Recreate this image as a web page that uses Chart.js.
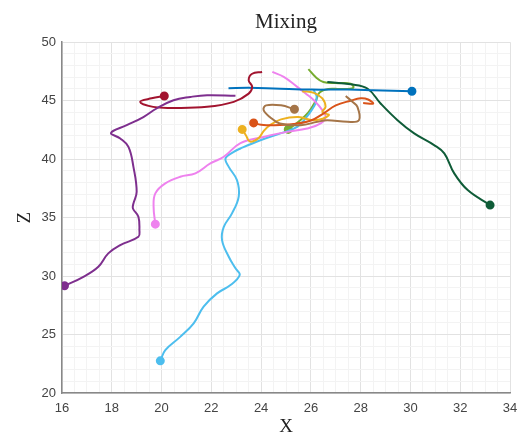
<!DOCTYPE html>
<html>
<head>
<meta charset="utf-8">
<script src="https://cdn.jsdelivr.net/npm/chart.js@4.4.0/dist/chart.umd.min.js"></script>
<style>
  html, body { margin: 0; padding: 0; background: #fff; }
  #wrap { width: 522px; height: 439px; }
</style>
</head>
<body>
<div id="wrap"><canvas id="mixChart" width="522" height="439"></canvas></div>
<script>
// each track starts at its marker
const purpleX = [16.1, 16.86, 17.46, 17.86, 18.34, 19.07, 19.11, 19.07, 18.85, 18.87, 19.0, 18.87, 18.67, 18.34, 17.97, 18.6, 19.27, 19.8, 20.48, 21.16, 21.83, 22.97];
const purpleY = [29.17, 29.94, 30.8, 31.94, 32.65, 33.36, 33.93, 35.07, 35.78, 36.2, 37.2, 39.34, 41.05, 41.77, 42.25, 42.9, 43.6, 44.33, 45.04, 45.32, 45.47, 45.41];

const redX = [20.11, 19.6, 19.14, 19.66, 20.47, 21.83, 22.9, 23.5, 23.64, 23.5, 23.64, 24.04];
const redY = [45.4, 45.2, 44.9, 44.47, 44.38, 44.47, 44.9, 45.6, 46.18, 46.75, 47.3, 47.46];

const blueX = [30.06, 28.5, 27.5, 26.0, 24.5, 23.5, 22.69];
const blueY = [45.81, 45.9, 45.95, 45.95, 46.05, 46.1, 46.07];

const darkGreenX = [33.2, 32.3, 31.76, 31.36, 30.95, 30.15, 29.48, 28.8, 28.27, 27.6, 26.66];
const darkGreenY = [36.07, 37.35, 38.78, 40.49, 41.2, 42.2, 43.33, 44.76, 46.04, 46.4, 46.6];

const greenX = [25.09, 25.5, 25.9, 26.2, 26.35, 26.7, 27.2, 27.7, 27.6, 27.0, 26.5, 26.2, 25.9];
const greenY = [42.54, 43.2, 44.0, 45.0, 45.7, 46.0, 46.0, 46.1, 46.45, 46.5, 46.6, 47.0, 47.7];

const orangeX = [23.7, 24.0, 24.5, 25.3, 26.0, 26.5, 27.0, 27.6, 28.0, 28.3, 28.5, 28.1];
const orangeY = [43.1, 42.95, 42.9, 43.0, 43.3, 43.9, 44.6, 45.0, 45.2, 45.1, 44.75, 44.8];

const brownX = [25.34, 24.8, 24.2, 24.1, 24.35, 24.75, 25.59, 26.26, 26.66, 27.47, 27.93, 27.87, 27.67, 27.4];
const brownY = [44.27, 44.6, 44.6, 44.2, 43.6, 43.05, 42.9, 43.19, 43.33, 43.19, 43.33, 44.47, 44.9, 45.4];

const yellowX = [23.24, 23.4, 23.55, 23.9, 24.1, 24.35, 24.8, 25.5, 26.12, 26.72, 26.46, 26.59, 26.46, 26.12, 25.65];
const yellowY = [42.54, 42.0, 41.5, 41.8, 42.4, 42.9, 43.4, 43.6, 43.33, 43.76, 44.04, 44.47, 45.19, 45.67, 45.81];

const cyanX = [19.95, 20.15, 20.75, 21.29, 21.69, 22.23, 22.77, 23.14, 22.97, 22.7, 22.43, 22.5, 22.83, 23.1, 23.03, 22.7, 22.57, 22.9, 23.17, 23.97, 24.78, 25.45, 25.79, 26.03, 26.19, 26.23, 26.11];
const cyanY = [22.75, 23.67, 24.8, 25.96, 27.39, 28.52, 29.23, 30.09, 30.66, 31.65, 33.08, 34.2, 35.36, 36.8, 38.2, 39.34, 40.06, 40.62, 40.91, 41.62, 42.2, 42.76, 43.5, 44.19, 44.79, 45.38, 45.9];

const violetX = [19.75, 19.68, 19.75, 20.15, 20.75, 21.36, 21.96, 22.5, 23.17, 24.1, 25.05, 25.85, 26.39, 26.59, 26.46, 26.12, 25.79, 25.45, 24.91, 24.45];
const violetY = [34.44, 35.92, 37.07, 37.92, 38.49, 38.78, 39.63, 40.2, 41.37, 41.9, 42.33, 42.62, 43.05, 43.62, 44.19, 45.04, 45.62, 46.18, 47.03, 47.46];

const xTicks = [16, 18, 20, 22, 24, 26, 28, 30, 32, 34];
const yTicks = [20, 25, 30, 35, 40, 45, 50];

const tracks = [
  { x: purpleX, y: purpleY, color: "#7E2F8E" },
  { x: redX, y: redY, color: "#A2142F" },
  { x: blueX, y: blueY, color: "#0072BD" },
  { x: darkGreenX, y: darkGreenY, color: "#0F5C38" },
  { x: brownX, y: brownY, color: "#A57548" },
  { x: orangeX, y: orangeY, color: "#D95319" },
  { x: yellowX, y: yellowY, color: "#EDB120" },
  { x: violetX, y: violetY, color: "#EE82EE" },
  { x: cyanX, y: cyanY, color: "#4DBEEE" },
  { x: greenX, y: greenY, color: "#77AC30" }
];

const datasets = tracks.map(t => ({
  data: t.x.map((v, i) => ({ x: v, y: t.y[i] })),
  showLine: true,
  borderColor: t.color,
  backgroundColor: t.color,
  borderWidth: 2,
  tension: 0.4,
  pointRadius: ctx => (ctx.dataIndex === 0 ? 3.5 : 0),
  pointHoverRadius: 0
}));

const tickFont = { family: "'Liberation Sans', Arial, sans-serif", size: 13 };
const serif = "'Liberation Serif', 'Times New Roman', serif";

new Chart(document.getElementById("mixChart"), {
  type: "scatter",
  data: { datasets },
  options: {
    responsive: false,
    animation: false,
    layout: { padding: { left: 10, right: 12 } },
    plugins: {
      legend: { display: false },
      tooltip: { enabled: false },
      title: {
        display: true,
        fullSize: false,
        text: "Mixing",
        color: "#222",
        font: { family: serif, size: 21, weight: "normal" },
        padding: { top: 10, bottom: 7 }
      }
    },
    scales: {
      x: {
        type: "linear",
        min: 16,
        max: 34,
        afterBuildTicks: s => {
          const t = [];
          for (let v = 16; v <= 34.001; v += 0.5) t.push({ value: v });
          s.ticks = t;
        },
        afterFit: s => {
          s.height = 46;
          s.paddingLeft = 0;
          s.paddingRight = 0;
        },
        ticks: {
          autoSkip: false,
          maxRotation: 0,
          color: "#444",
          font: tickFont,
          padding: 8,
          callback: v => (xTicks.includes(v) ? v : "")
        },
        grid: {
          drawTicks: false,
          color: c => (xTicks.includes(c.tick.value) ? "#e2e2e2" : "#f3f3f3")
        },
        border: { color: "#888", width: 1.5 },
        title: { display: true, text: "X", color: "#222", font: { family: serif, size: 19 }, padding: { top: 0, bottom: 1 } }
      },
      y: {
        type: "linear",
        min: 20,
        max: 50,
        afterBuildTicks: s => {
          const t = [];
          for (let v = 20; v <= 50; v += 1) t.push({ value: v });
          s.ticks = t;
        },
        afterFit: s => { s.width = 52; },
        ticks: {
          autoSkip: false,
          color: "#444",
          font: tickFont,
          padding: 6,
          callback: v => (yTicks.includes(v) ? v : "")
        },
        grid: {
          drawTicks: false,
          color: c => (yTicks.includes(c.tick.value) ? "#e2e2e2" : "#f3f3f3")
        },
        border: { color: "#888", width: 1.5 },
        title: { display: true, text: "Z", color: "#222", font: { family: serif, size: 19 }, padding: { bottom: 4 } }
      }
    }
  }
});
</script>
</body>
</html>
